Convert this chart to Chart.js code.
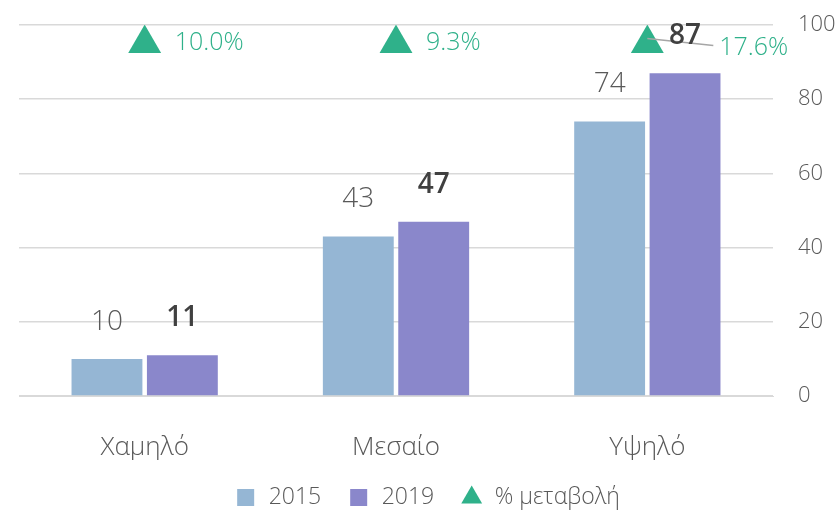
<!DOCTYPE html>
<html>
<head>
<meta charset="utf-8">
<script src="https://cdn.jsdelivr.net/npm/chart.js@4.4.1/dist/chart.umd.min.js"></script>
<style>
  html, body { margin: 0; padding: 0; background: #fff; }
  #wrap { width: 837px; height: 512px; }
</style>
</head>
<body>
<div id="wrap"><canvas id="grafico"></canvas></div>
<script>
// datos
const categorias = ['Χαμηλό', 'Μεσαίο', 'Υψηλό'];
const valores2015 = [10, 43, 74];
const valores2019 = [11, 47, 87];
const cambioPct = [10.0, 9.3, 17.6];
const nivelMarcador = [95, 95, 95]; // altura donde se ven los triangulos
const ticksY = [0, 20, 40, 60, 80, 100];

const FUENTE = "'Open Sans', 'Noto Sans', sans-serif";
const VERDE = '#2fb18a';

// etiquetas encima de las barras y de los triangulos
const etiquetas = {
  id: 'etiquetas',
  afterDatasetsDraw(chart) {
    const ctx = chart.ctx;
    ctx.save();
    ctx.textAlign = 'center';
    ctx.textBaseline = 'middle';

    chart.getDatasetMeta(0).data.forEach((bar, i) => {
      ctx.font = '300 28px ' + FUENTE;
      ctx.fillStyle = '#595959';
      ctx.fillText(valores2015[i], bar.x, bar.y - 37);
    });

    // linea guia del ultimo porcentaje
    const tri = chart.getDatasetMeta(2).data;
    const t = tri[2];
    ctx.strokeStyle = '#a6a6a6';
    ctx.lineWidth = 1.5;
    ctx.beginPath();
    ctx.moveTo(t.x, t.y - 5);
    ctx.lineTo(t.x + 66, t.y + 2);
    ctx.stroke();

    chart.getDatasetMeta(1).data.forEach((bar, i) => {
      ctx.font = '600 28px ' + FUENTE;
      ctx.fillStyle = '#404040';
      ctx.fillText(valores2019[i], bar.x, bar.y - 37);
    });

    ctx.textAlign = 'left';
    ctx.font = '300 25px ' + FUENTE;
    ctx.fillStyle = VERDE;
    tri.forEach((p, i) => {
      const txt = cambioPct[i].toFixed(1) + '%';
      if (i === 2) ctx.fillText(txt, p.x + 72, p.y + 4);
      else ctx.fillText(txt, p.x + 30, p.y - 1);
    });
    ctx.restore();
  }
};

new Chart(document.getElementById('grafico'), {
  type: 'bar',
  data: {
    labels: categorias,
    datasets: [
      {
        label: '2015',
        data: valores2015,
        backgroundColor: '#95b6d4',
        pointStyle: 'rect',
        categoryPercentage: 0.6,
        barPercentage: 0.94,
        order: 2
      },
      {
        label: '2019',
        data: valores2019,
        backgroundColor: '#8a87cb',
        pointStyle: 'rect',
        categoryPercentage: 0.6,
        barPercentage: 0.94,
        order: 2
      },
      {
        type: 'line',
        label: '% μεταβολή',
        data: nivelMarcador,
        showLine: false,
        pointStyle: 'triangle',
        pointRadius: 19,
        pointHoverRadius: 19,
        backgroundColor: VERDE,
        borderColor: VERDE,
        borderWidth: 0,
        order: 1
      }
    ]
  },
  options: {
    responsive: true,
    maintainAspectRatio: false,
    animation: false,
    layout: { padding: { left: 17, top: 25, right: 0, bottom: -7 } },
    scales: {
      x: {
        grid: { display: false },
        border: { color: '#d9d9d9' },
        ticks: { color: '#595959', font: { family: FUENTE, size: 26, weight: '300' }, padding: 28 },
        afterFit: axis => { axis.height = 64; }
      },
      y: {
        position: 'right',
        min: 0,
        max: 100,
        afterBuildTicks: axis => { axis.ticks = ticksY.map(v => ({ value: v })); },
        grid: { color: '#d9d9d9', lineWidth: 1.5, drawTicks: false },
        border: { display: false },
        ticks: { color: '#595959', font: { family: FUENTE, size: 22, weight: '300' }, padding: 25 },
        afterFit: axis => {
          axis.width = 64;
          axis.paddingTop = 0;
          axis.paddingBottom = 0;
        }
      }
    },
    plugins: {
      legend: {
        position: 'bottom',
        labels: {
          usePointStyle: true,
          boxHeight: 17,
          color: '#595959',
          font: { family: FUENTE, size: 23, weight: '300' },
          padding: 26,
          sort: (a, b) => a.datasetIndex - b.datasetIndex
        }
      },
      tooltip: { enabled: false }
    }
  },
  plugins: [etiquetas]
});
</script>
</body>
</html>
